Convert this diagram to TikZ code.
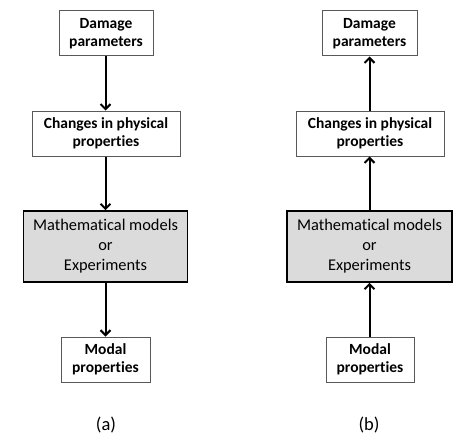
\documentclass[tikz,border=0pt]{standalone}
\usepackage{fontspec}
\setmainfont[Ligatures={NoCommon}]{Carlito}
\usetikzlibrary{arrows.meta}
\begin{document}
\begin{tikzpicture}[x=1pt,y=-1pt,
  box/.style={draw=black!65,line width=1pt,fill=white,align=center,font=\fontsize{15.5}{18.5}\selectfont\bfseries,inner sep=0pt},
  gbox/.style={draw=black,line width=1.6pt,fill=black!14,align=center,font=\fontsize{16.4}{20}\selectfont,inner sep=0pt},
  arr/.style={line width=2pt,-{Straight Barb[length=5pt,width=10pt,line width=2pt]}},
  lab/.style={font=\fontsize{18.5}{22}\selectfont}]
\useasboundingbox (0,0) rectangle (474,444);
\fill[white] (0,0) rectangle (474,444);
% (a)
\node[box,minimum width=94pt,minimum height=45pt] (dA) at (106,33.5) {Damage\\parameters};
\node[box,minimum width=148pt,minimum height=45pt] (cA) at (106,133.5) {Changes in physical\\properties};
\node[gbox,minimum width=164pt,minimum height=71pt] (mA) at (105.5,246.5) {Mathematical models\\or\\Experiments};
\node[box,minimum width=89pt,minimum height=45pt] (pA) at (105.5,359.5) {Modal\\properties};
\node[lab] (la) at (106,425) {(a)};
\draw[arr] (dA.south -| 105.5,0) -- (cA.north -| 105.5,0);
\draw[arr] (cA.south -| 105.5,0) -- (mA.north -| 105.5,0);
\draw[arr] (mA.south -| 105.5,0) -- (pA.north -| 105.5,0);
% (b)
\node[box,minimum width=95pt,minimum height=45pt] (dB) at (369.5,33.5) {Damage\\parameters};
\node[box,minimum width=148pt,minimum height=45pt] (cB) at (370,133.5) {Changes in physical\\properties};
\node[gbox,minimum width=165pt,minimum height=71pt] (mB) at (369.5,246.5) {Mathematical models\\or\\Experiments};
\node[box,minimum width=88pt,minimum height=45pt] (pB) at (370,359.5) {Modal\\properties};
\node[lab] (lb) at (369,425) {(b)};
\draw[arr] (pB.north -| 369.5,0) -- (mB.south -| 369.5,0);
\draw[arr] (mB.north -| 369.5,0) -- (cB.south -| 369.5,0);
\draw[arr] (cB.north -| 369.5,0) -- (dB.south -| 369.5,0);
\end{tikzpicture}
\end{document}
